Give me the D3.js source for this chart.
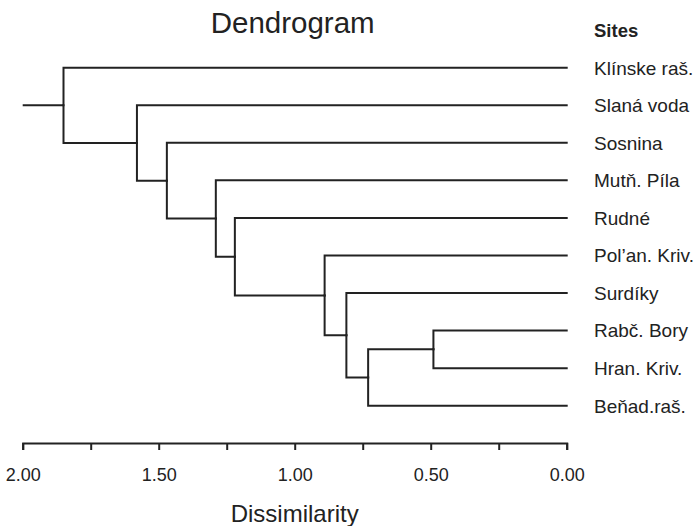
<!DOCTYPE html>
<html>
<head>
<meta charset="utf-8">
<script src="https://cdn.jsdelivr.net/npm/d3@7"></script>
<style>
	body { margin: 0; background: #fff; }
	svg { display: block; font-family: "Liberation Sans", Arial, sans-serif; }
</style>
</head>
<body>
<div id="chart"></div>
<script>
// leaves, top to bottom
const sites = ["Klínske raš.", "Slaná voda", "Sosnina", "Mutň. Píla", "Rudné",
	"Pol’an. Kriv.", "Surdíky", "Rabč. Bory", "Hran. Kriv.", "Beňad.raš."];

// hclust-style merges: negative = leaf (1-based), positive = earlier merge step
const mergeA = [-8, 1, -7, -6, -5, -4, -3, -2, -1];
const mergeB = [-9, -10, 2, 3, 4, 5, 6, 7, 8];
const mergeHeight = [0.49, 0.73, 0.81, 0.89, 1.22, 1.29, 1.47, 1.58, 1.85];

const majorTicks = [2, 1.5, 1, 0.5, 0];
const minorTicks = [1.75, 1.25, 0.75, 0.25];

(function() {
	const width = 697, height = 526;
	const ink = "#222";

	const svg = d3.select("#chart").append("svg")
		.attr("width", width).attr("height", height);

	function build(i) {
		if (i < 0) return {name: sites[-i - 1], h: 0};
		return {h: mergeHeight[i - 1], children: [build(mergeA[i - 1]), build(mergeB[i - 1])]};
	}
	const root = d3.hierarchy(build(mergeHeight.length));

	const x = d3.scaleLinear().domain([2, 0]).range([22.7, 566.7]);
	const yLeaf = d3.scalePoint().domain(sites).range([67.7, 405.7]);

	root.eachAfter(d => {
		d.py = d.children ? d3.mean(d.children, c => c.py) : yLeaf(d.data.name);
	});

	const g = svg.append("g");

	// root stub from the axis maximum
	g.append("path")
		.attr("d", `M${x(x.domain()[0])},${root.py}H${x(root.data.h)}`)
		.attr("fill", "none").attr("stroke", ink).attr("stroke-width", 2);

	g.selectAll("path.link")
		.data(root.descendants().filter(d => d.parent))
		.join("path")
		.attr("class", "link")
		.attr("d", d => `M${x(d.parent.data.h)},${d.parent.py}V${d.py}H${x(d.data.h)}`)
		.attr("fill", "none").attr("stroke", ink).attr("stroke-width", 2)
		.attr("stroke-linejoin", "miter").attr("stroke-linecap", "square");

	// leaf labels
	svg.selectAll("text.site")
		.data(root.leaves())
		.join("text")
		.attr("class", "site")
		.attr("x", 594).attr("y", d => d.py).attr("dy", "0.36em")
		.attr("font-size", 19).attr("fill", ink)
		.text(d => d.data.name);

	svg.append("text")
		.attr("x", 594).attr("y", 36.7)
		.attr("font-size", 18.5).attr("font-weight", "bold").attr("fill", ink)
		.text("Sites");

	// axis
	const fmt = d3.format(".2f");
	const axis = d3.axisBottom(x)
		.tickValues(majorTicks.concat(minorTicks))
		.tickSize(7).tickPadding(18)
		.tickFormat(d => majorTicks.includes(d) ? fmt(d) : "");

	const ax = svg.append("g")
		.attr("transform", "translate(0,443)")
		.call(axis);
	ax.selectAll("path, line").attr("stroke", ink).attr("stroke-width", 2);
	ax.selectAll("text")
		.attr("font-size", 18).attr("font-family", "Liberation Sans, Arial, sans-serif")
		.attr("fill", ink);

	svg.append("text")
		.attr("x", x(1)).attr("y", 522)
		.attr("text-anchor", "middle").attr("font-size", 24).attr("fill", ink)
		.text("Dissimilarity");

	svg.append("text")
		.attr("x", x(1) - 2).attr("y", 33)
		.attr("text-anchor", "middle").attr("font-size", 29.5).attr("fill", ink)
		.text("Dendrogram");
})();
</script>
</body>
</html>
